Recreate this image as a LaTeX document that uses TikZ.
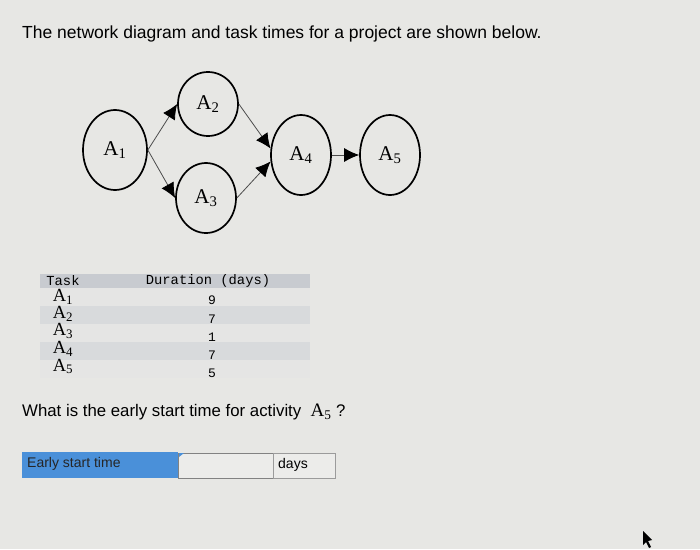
\documentclass[tikz,border=0pt]{standalone}
\usepackage{fontspec}
\setmainfont{Liberation Sans}
\newfontfamily\serif{Liberation Serif}
\newfontfamily\mono{Liberation Mono}
\usetikzlibrary{shapes.geometric,arrows.meta}
\definecolor{bg}{RGB}{231,231,228}
\definecolor{hdr}{RGB}{200,203,208}
\definecolor{rowa}{RGB}{229,229,228}
\definecolor{rowb}{RGB}{216,218,220}
\definecolor{bluebox}{RGB}{74,144,217}
\definecolor{inbox}{RGB}{236,236,234}
\definecolor{boxline}{RGB}{130,130,130}
\tikzset{
  act/.style={ellipse, draw=black, line width=1.7pt, minimum width=#1, inner sep=0pt},
  lnk/.style={draw=black!70, line width=0.8pt, -{Latex[length=15pt,width=14pt,black]}},
  nlab/.style={font=\serif\fontsize{21}{21}\selectfont},
  tlab/.style={font=\serif\fontsize{18.5}{14}\selectfont, inner sep=0pt, text height=11pt, text depth=3.5pt},
  num/.style={font=\mono\fontsize{13}{13}\selectfont, inner sep=0pt},
}
\begin{document}
\begin{tikzpicture}[x=1pt,y=-1pt]
\useasboundingbox (0,0) rectangle (700,549);
\fill[bg] (0,0) rectangle (700,549);
% title
\node[anchor=west, inner sep=0pt, font=\fontsize{17.5}{19}\selectfont] (title) at (22,34) {The network diagram and task times for a project are shown below.};
% network
\node[act=64pt, minimum height=80pt, nlab] (a1) at (115,150) {A\textsubscript{1}};
\node[act=60pt, minimum height=64pt, nlab] (a2) at (208,104) {A\textsubscript{2}};
\node[act=60pt, minimum height=70pt, nlab] (a3) at (206,198) {A\textsubscript{3}};
\node[act=60pt, minimum height=80pt, nlab] (a4) at (301,155) {A\textsubscript{4}};
\node[act=60pt, minimum height=80pt, nlab] (a5) at (390,155) {A\textsubscript{5}};
\draw[lnk] (a1.east) -- (a2.west);
\draw[lnk] (a1.east) -- (a3.west);
\draw[lnk] (a2.east) -- (a4.168);
\draw[lnk] (a3.east) -- (a4.192);
\draw[lnk] (a4.east) -- (a5.west);
% table
\fill[hdr] (40,274) rectangle (310,288);
\fill[rowa] (40,288) rectangle (310,306);
\fill[rowb] (40,306) rectangle (310,324);
\fill[rowa] (40,324) rectangle (310,342);
\fill[rowb] (40,342) rectangle (310,360);
\fill[rowa] (40,360) rectangle (310,378);
\node[font=\mono\fontsize{13.8}{14}\selectfont, inner sep=0pt] (htask) at (63,281) {Task};
\node[font=\mono\fontsize{13.8}{14}\selectfont, inner sep=0pt] (hdur) at (208,281) {Duration (days)};
\node[tlab] (t1) at (63,298) {A\textsubscript{1}};
\node[tlab] (t2) at (63,315) {A\textsubscript{2}};
\node[tlab] (t3) at (63,332) {A\textsubscript{3}};
\node[tlab] (t4) at (63,350) {A\textsubscript{4}};
\node[tlab] (t5) at (63,367.5) {A\textsubscript{5}};
\node[num] (d1) at (212,300) {9};
\node[num] (d2) at (212,319) {7};
\node[num] (d3) at (212,337) {1};
\node[num] (d4) at (212,355) {7};
\node[num] (d5) at (212,373) {5};
% question
\node[anchor=west, inner sep=0pt, font=\fontsize{16.8}{18}\selectfont] (q) at (22,412) {What is the early start time for activity \ {\serif\fontsize{19}{18}\selectfont A\textsubscript{5}} ?};
% answer row
\node[anchor=north west, fill=bluebox, minimum width=156pt, minimum height=26pt, inner sep=0pt] (lab) at (22,452) {};
\node[anchor=west, inner sep=0pt, font=\fontsize{14}{14}\selectfont, text=black!85] (labtxt) at (27,464) {Early start time};
\node[anchor=north west, fill=inbox, draw=boxline, line width=1.2pt, minimum width=95pt, minimum height=25pt, inner sep=0pt] (inp) at (178,452.5) {};
\fill[bluebox] (179,453) -- (184,453) -- (179,457) -- cycle;
\node[anchor=north west, fill=inbox, draw=boxline!80, line width=0.9pt, minimum width=62pt, minimum height=25pt, inner sep=0pt] (unit) at (273,453) {};
\node[anchor=west, inner sep=0pt, font=\fontsize{14}{14}\selectfont] (unittxt) at (278,465) {days};
% pointer
\fill[black] (643,531) -- (643,545) -- (646,542) -- (649,548) -- (651,547) -- (648,541) -- (652,540) -- cycle;
\end{tikzpicture}
\end{document}
